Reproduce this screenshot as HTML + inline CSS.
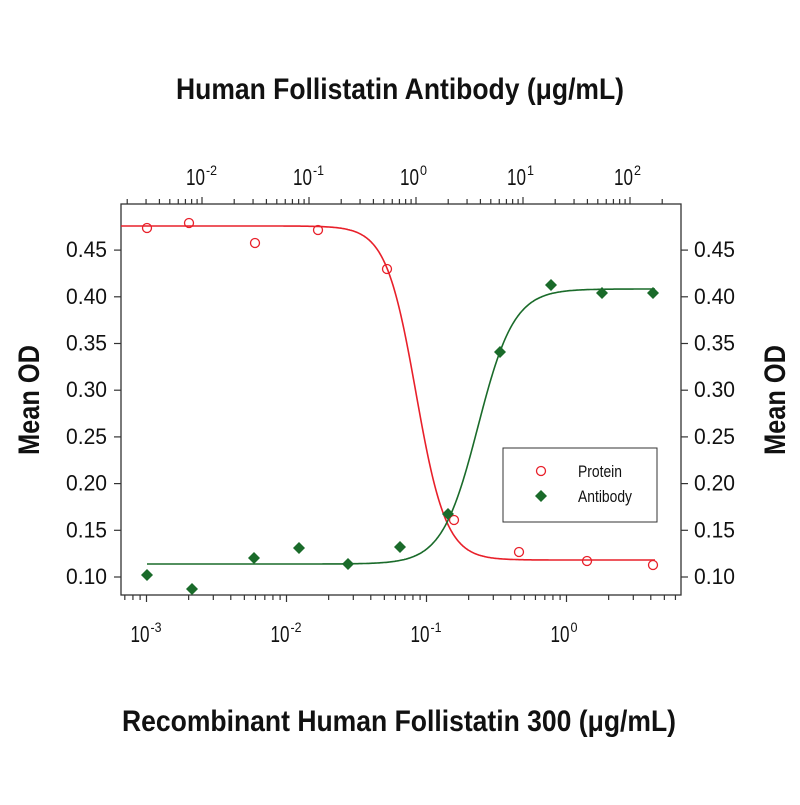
<!DOCTYPE html>
<html><head><meta charset="utf-8"><style>
html,body{margin:0;padding:0;background:#fff;}
text{font-family:"Liberation Sans Narrow","Liberation Sans",sans-serif;fill:#111;}
</style></head><body>
<svg width="800" height="800" viewBox="0 0 800 800" xmlns="http://www.w3.org/2000/svg">
<rect width="800" height="800" fill="#fff"/>
<text x="176" y="99" font-size="30" font-weight="bold" textLength="448" lengthAdjust="spacingAndGlyphs">Human Follistatin Antibody (μg/mL)</text>
<text x="122" y="731" font-size="30" font-weight="bold" textLength="554" lengthAdjust="spacingAndGlyphs">Recombinant Human Follistatin 300 (μg/mL)</text>
<text transform="translate(39,455) rotate(-90)" font-size="30" font-weight="bold" textLength="110" lengthAdjust="spacingAndGlyphs">Mean OD</text>
<text transform="translate(785,455) rotate(-90)" font-size="30" font-weight="bold" textLength="110" lengthAdjust="spacingAndGlyphs">Mean OD</text>
<rect x="121" y="204" width="560" height="391" fill="none" stroke="#333" stroke-width="1.3"/>
<g id="ax" stroke="#333" stroke-width="1.2"></g>
<g id="lbl" font-size="21"></g>
<g id="curves"></g>
<rect x="503" y="448" width="154" height="74" fill="none" stroke="#333" stroke-width="1"/>
<circle cx="541" cy="471" r="4.5" fill="none" stroke="#e8202a" stroke-width="1.3"/>
<text x="578" y="477" font-size="17" textLength="44" lengthAdjust="spacingAndGlyphs">Protein</text>
<path d="M541 490 l6 6 -6 6 -6 -6z" fill="#1a6b2a"/>
<text x="578" y="502" font-size="17" textLength="54" lengthAdjust="spacingAndGlyphs">Antibody</text>
</svg>
<script>
var NS="http://www.w3.org/2000/svg";
function el(p,t,a,txt){var e=document.createElementNS(NS,t);for(var k in a)e.setAttribute(k,a[k]);if(txt!==undefined)e.textContent=txt;document.getElementById(p).appendChild(e);return e;}
function ln(x1,y1,x2,y2){el("ax","line",{x1:x1,y1:y1,x2:x2,y2:y2});}
function pw(x,y,d){var t=el("lbl","text",{x:x-16,y:y,"font-size":23,textLength:19,lengthAdjust:"spacingAndGlyphs"},"10");var s=el("lbl","text",{x:x+4,y:y-10,"font-size":14,textLength:(d<0?11:7),lengthAdjust:"spacingAndGlyphs"},String(d));}
// bottom axis
function bx(v){return 566.5+140*Math.log10(v);}
for(var d=-4;d<=1;d++)for(var m=1;m<10;m++){var x=bx(m*Math.pow(10,d));if(x<122||x>680)continue;ln(x,595,x,m==1?602:600);}
[-3,-2,-1,0].forEach(function(d){pw(bx(Math.pow(10,d)),642,d);});
// top axis
function tx(v){return 416+107*Math.log10(v);}
for(var d=-3;d<=2;d++)for(var m=1;m<10;m++){var x=tx(m*Math.pow(10,d));if(x<122||x>680)continue;ln(x,204,x,m==1?197:199);}
[-2,-1,0,1,2].forEach(function(d){pw(tx(Math.pow(10,d)),185,d);});
// y axes
function yy(v){return 577-(v-0.10)*934;}
for(var i=0;i<8;i++){var v=0.10+0.05*i,y=yy(v);ln(114,y,121,y);ln(681,y,688,y);
el("lbl","text",{x:66,y:y+7,"font-size":22,textLength:41,lengthAdjust:"spacingAndGlyphs"},v.toFixed(2));
el("lbl","text",{x:694,y:y+7,"font-size":22,textLength:41,lengthAdjust:"spacingAndGlyphs"},v.toFixed(2));}
// curves
function path(x0,x1,f){var d="";for(var x=x0;x<=x1;x+=1)d+=(d?"L":"M")+x+" "+f(x).toFixed(1);return d;}
el("curves","path",{d:path(121,655,function(x){return 560-(560-226)/(1+Math.exp((x-416)/15));}),fill:"none",stroke:"#e8202a","stroke-width":1.6});
el("curves","path",{d:path(147,655,function(x){return 564-(564-289)/(1+Math.exp(-(x-478)/18));}),fill:"none",stroke:"#1a6b2a","stroke-width":1.6});
[[147,228],[189,223],[255,243],[318,230],[387,269],[454,520],[519,552],[587,561],[653,565]].forEach(function(p){el("curves","circle",{cx:p[0],cy:p[1],r:4.5,fill:"none",stroke:"#e8202a","stroke-width":1.3});});
[[147,575],[192,589],[254,558],[299,548],[348,564],[400,547],[448,514],[500,352],[551,285],[602,293],[653,293]].forEach(function(p){el("curves","path",{d:"M"+p[0]+" "+(p[1]-6)+"l6 6 -6 6 -6 -6z",fill:"#1a6b2a"});});
</script>
</body></html>
